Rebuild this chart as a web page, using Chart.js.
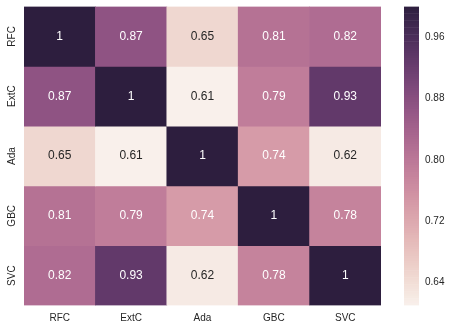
<!DOCTYPE html>
<html>
<head>
<meta charset="utf-8">
<script src="https://cdn.jsdelivr.net/npm/chart.js@4/dist/chart.umd.min.js"></script>
<style>
  html, body { margin: 0; padding: 0; background: #fff; }
  #wrap { position: relative; width: 452px; height: 330px; }
  #heat { position: absolute; left: 0; top: 0; }
  #barra { position: absolute; left: 395px; top: 0; }
</style>
</head>
<body>
<div id="wrap">
  <canvas id="heat" width="390" height="330"></canvas>
  <canvas id="barra" width="57" height="330"></canvas>
</div>
<script>
const modelos = ["RFC", "ExtC", "Ada", "GBC", "SVC"];
const filaRFC  = [1, 0.87, 0.65, 0.81, 0.82];
const filaExtC = [0.87, 1, 0.61, 0.79, 0.93];
const filaAda  = [0.65, 0.61, 1, 0.74, 0.62];
const filaGBC  = [0.81, 0.79, 0.74, 1, 0.78];
const filaSVC  = [0.82, 0.93, 0.62, 0.78, 1];
const filas = [filaRFC, filaExtC, filaAda, filaGBC, filaSVC];
const ticksBarra = [0.64, 0.72, 0.80, 0.88, 0.96];

const vmin = Math.min(...filas.flat());
const vmax = Math.max(...filas.flat());

const fuente = "'Liberation Sans', Arial, sans-serif";
const gris = "#262626";

// paleta cubehelix (start 0, rot .4, hue .8, light .95, dark .15)
function cubehelix(t) {
    const x = 0.95 + (0.15 - 0.95) * t;
    const a = 0.8 * x * (1 - x) / 2;
    const phi = 2 * Math.PI * (0.4 * x);
    const c = (p0, p1) => Math.min(1, Math.max(0, x + a * (p0 * Math.cos(phi) + p1 * Math.sin(phi))));
    return [c(-0.14861, 1.78277), c(-0.29227, -0.90649), c(1.97294, 0.0)];
}
function colorDe(v) {
    const t = Math.min(1, Math.max(0, (v - vmin) / (vmax - vmin)));
    const [r, g, b] = cubehelix(t);
    return `rgb(${Math.round(r * 255)},${Math.round(g * 255)},${Math.round(b * 255)})`;
}
function luminancia(v) {
    const t = Math.min(1, Math.max(0, (v - vmin) / (vmax - vmin)));
    const lin = cubehelix(t).map(c => c <= 0.03928 ? c / 12.92 : Math.pow((c + 0.055) / 1.055, 2.4));
    return 0.2126 * lin[0] + 0.7152 * lin[1] + 0.0722 * lin[2];
}

// texto en cada celda + etiquetas verticales del eje y
const anotaciones = {
    id: "anotaciones",
    afterDatasetsDraw(chart) {
        const ctx = chart.ctx;
        ctx.save();
        ctx.font = "12px " + fuente;
        ctx.textAlign = "center";
        ctx.textBaseline = "middle";
        chart.data.datasets.forEach((ds, r) => {
            chart.getDatasetMeta(r).data.forEach((el, c) => {
                const v = filas[r][c];
                ctx.fillStyle = luminancia(v) > 0.408 ? gris : "#ffffff";
                ctx.fillText(String(v), el.x, (el.y + el.base) / 2);
            });
        });
        ctx.restore();
    },
    afterDraw(chart) {
        const ctx = chart.ctx;
        const y = chart.scales.y;
        ctx.save();
        ctx.font = "10px " + fuente;
        ctx.fillStyle = gris;
        ctx.textAlign = "center";
        ctx.textBaseline = "middle";
        modelos.forEach((m, i) => {
            ctx.save();
            ctx.translate(12.5, y.getPixelForValue(i + 0.5));
            ctx.rotate(-Math.PI / 2);
            ctx.fillText(m, 0, 0);
            ctx.restore();
        });
        ctx.restore();
    }
};

new Chart(document.getElementById("heat"), {
    type: "bar",
    data: {
        labels: modelos,
        datasets: filas.map((fila, r) => ({
            label: modelos[r],
            data: fila.map(() => [r, r + 1]),
            backgroundColor: fila.map(colorDe),
            borderWidth: 0,
            grouped: false,
            barPercentage: 1,
            categoryPercentage: 1
        }))
    },
    options: {
        responsive: false,
        animation: false,
        events: [],
        layout: { padding: { top: 6.5, right: 9, left: 0, bottom: 0 } },
        plugins: { legend: { display: false }, tooltip: { enabled: false } },
        scales: {
            x: {
                grid: { display: false, drawTicks: false },
                border: { display: false },
                ticks: { color: gris, font: { size: 10, family: fuente }, padding: 7, maxRotation: 0 },
                afterFit: (s) => { s.height = 24.5; }
            },
            y: {
                min: 0, max: 5, reverse: true,
                grid: { display: false, drawTicks: false },
                border: { display: false },
                ticks: { display: false },
                afterFit: (s) => { s.width = 24; }
            }
        }
    },
    plugins: [anotaciones]
});

// barra de color
const pasos = 128;
const tramos = [];
for (let i = 0; i < pasos; i++) {
    const lo = vmin + (vmax - vmin) * i / pasos;
    const hi = vmin + (vmax - vmin) * (i + 1) / pasos;
    tramos.push({ lo, hi, color: colorDe((lo + hi) / 2) });
}

new Chart(document.getElementById("barra"), {
    type: "bar",
    data: {
        labels: [""],
        datasets: tramos.map(t => ({
            data: [[t.lo, t.hi]],
            backgroundColor: t.color,
            borderWidth: 0,
            grouped: false,
            barPercentage: 1,
            categoryPercentage: 1
        }))
    },
    options: {
        responsive: false,
        animation: false,
        events: [],
        layout: { padding: { top: 6.5, left: 9, bottom: 24.5, right: 0 } },
        plugins: { legend: { display: false }, tooltip: { enabled: false } },
        scales: {
            x: { display: false },
            y: {
                position: "right",
                min: vmin, max: vmax,
                grid: { display: false, drawTicks: false },
                border: { display: false },
                afterBuildTicks: (s) => { s.ticks = ticksBarra.map(v => ({ value: v })); },
                ticks: {
                    color: gris, font: { size: 10, family: fuente }, padding: 6,
                    callback: (v) => Number(v).toFixed(2)
                },
                afterFit: (s) => { s.width = 33; s.paddingTop = 0; s.paddingBottom = 0; }
            }
        }
    }
});
</script>
</body>
</html>
